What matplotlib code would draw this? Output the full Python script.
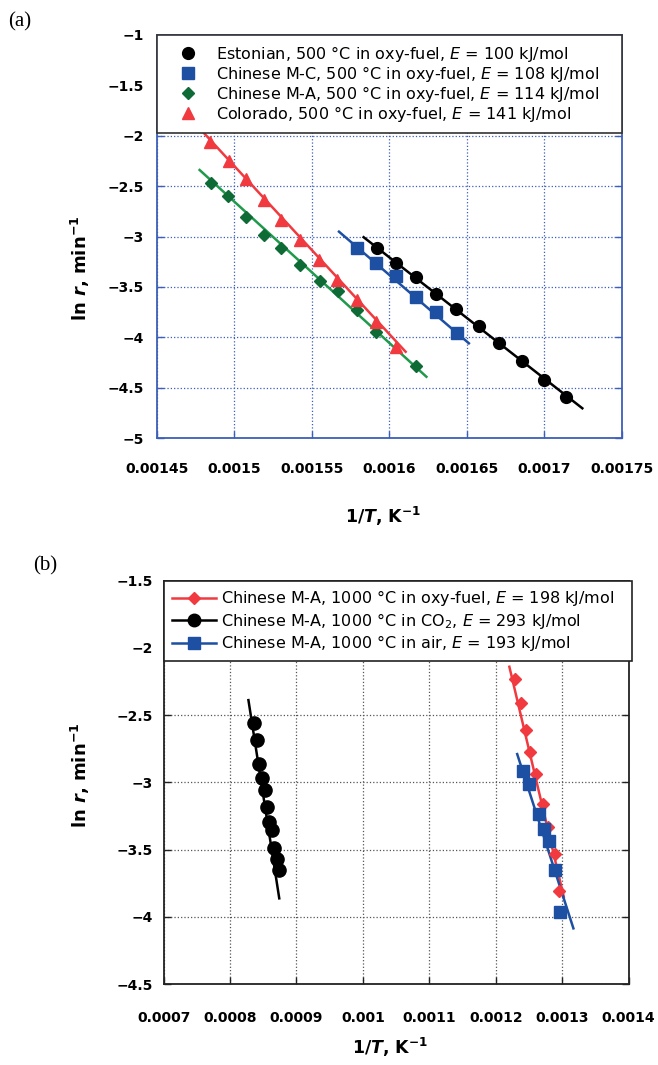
import matplotlib
matplotlib.use("Agg")
import matplotlib.pyplot as plt
from matplotlib.lines import Line2D
from matplotlib.ticker import FixedLocator, FixedFormatter

plt.rcParams['font.family'] = ['DejaVu Sans']
plt.rcParams['mathtext.fontset'] = 'custom'
plt.rcParams['mathtext.rm'] = 'DejaVu Sans'
plt.rcParams['mathtext.it'] = 'DejaVu Sans:italic'
plt.rcParams['mathtext.bf'] = 'DejaVu Sans:bold'
try:
    plt.rcParams['mathtext.bfit'] = 'DejaVu Sans:italic:bold'
    BFIT = True
except Exception:
    BFIT = False

# ---------------- Panel (a) data ----------------
est_x = [0.001592, 0.0016046, 0.0016175, 0.00163, 0.001643, 0.001658, 0.001671, 0.001686, 0.0017, 0.001714]
est_y = [-3.117, -3.260, -3.399, -3.571, -3.722, -3.888, -4.060, -4.233, -4.424, -4.590]
est_fit_x = [0.0015835, 0.0017246]
est_fit_y = [-3.007, -4.705]

mc_x = [0.001579, 0.0015917, 0.0016046, 0.0016175, 0.00163, 0.0016437]
mc_y = [-3.117, -3.260, -3.392, -3.598, -3.746, -3.955]
mc_fit_x = [0.0015676, 0.0016514]
mc_fit_y = [-2.952, -4.060]

ma_x = [0.0014848, 0.001496, 0.0015074, 0.001519, 0.0015304, 0.0015422, 0.0015551, 0.0015669, 0.0015792, 0.0015917, 0.0016175]
ma_y = [-2.472, -2.598, -2.810, -2.985, -3.117, -3.283, -3.442, -3.537, -3.730, -3.945, -4.285]
ma_fit_x = [0.0014777, 0.001624]
ma_fit_y = [-2.340, -4.392]

col_x = [0.0014846, 0.0014964, 0.0015079, 0.0015192, 0.0015304, 0.0015422, 0.0015547, 0.0015666, 0.0015792, 0.0015917, 0.0016046]
col_y = [-2.059, -2.248, -2.432, -2.638, -2.836, -3.033, -3.231, -3.430, -3.635, -3.851, -4.099]
col_fit_x = [0.0014777, 0.0016106]
col_fit_y = [-1.927, -4.144]

labels_a = [
    r'Estonian, 500 °C in oxy-fuel, $\mathit{E}$ = 100 kJ/mol',
    r'Chinese M-C, 500 °C in oxy-fuel, $\mathit{E}$ = 108 kJ/mol',
    r'Chinese M-A, 500 °C in oxy-fuel, $\mathit{E}$ = 114 kJ/mol',
    r'Colorado, 500 °C in oxy-fuel, $\mathit{E}$ = 141 kJ/mol',
]
xticks_a = [0.00145, 0.0015, 0.00155, 0.0016, 0.00165, 0.0017, 0.00175]
yticks_a = [-1, -1.5, -2, -2.5, -3, -3.5, -4, -4.5, -5]

# ---------------- Panel (b) data ----------------
oxy_x = [0.0012292, 0.0012374, 0.0012451, 0.0012523, 0.0012605, 0.0012708, 0.0012780, 0.0012886, 0.0012947]
oxy_y = [-2.235, -2.413, -2.611, -2.773, -2.938, -3.161, -3.330, -3.533, -3.805]
oxy_fit_x = [0.0012205, 0.0013024]
oxy_fit_y = [-2.141, -3.850]

co2_x = [0.000836, 0.0008404, 0.0008438, 0.0008479, 0.0008525, 0.0008564, 0.000859, 0.0008631, 0.0008665, 0.00087, 0.0008741]
co2_y = [-2.562, -2.686, -2.864, -2.970, -3.057, -3.181, -3.293, -3.354, -3.490, -3.572, -3.652]
co2_fit_x = [0.0008277, 0.0008741]
co2_fit_y = [-2.389, -3.862]

air_x = [0.0012409, 0.0012497, 0.0012651, 0.0012732, 0.0012809, 0.0012886, 0.0012974]
air_y = [-2.914, -3.013, -3.236, -3.349, -3.434, -3.652, -3.966]
air_fit_x = [0.0012323, 0.0013169]
air_fit_y = [-2.790, -4.085]

labels_b = [
    r'Chinese M-A, 1000 °C in oxy-fuel, $\mathit{E}$ = 198 kJ/mol',
    r'Chinese M-A, 1000 °C in CO$_2$, $\mathit{E}$ = 293 kJ/mol',
    r'Chinese M-A, 1000 °C in air, $\mathit{E}$ = 193 kJ/mol',
]
xticks_b = [0.0007, 0.0008, 0.0009, 0.001, 0.0011, 0.0012, 0.0013, 0.0014]
yticks_b = [-1.5, -2, -2.5, -3, -3.5, -4, -4.5]

# ---------------- colours ----------------
BLACK = '#000000'
BLUE = '#1d4fa3'
GREEN_M = '#0e6b35'
GREEN_L = '#1f9a4a'
RED = '#f03a3f'
FRAME_A = '#3d5fb8'

def fmt(v):
    return ('%g' % v).replace('-', '\u2212')

XLAB = r'1/$\mathbfit{T}$, K$^{\mathbf{-1}}$' if BFIT else r'1/$\mathit{T}$, K$^{-1}$'
YLAB = r'ln $\mathbfit{r}$, min$^{\mathbf{-1}}$' if BFIT else r'ln $\mathit{r}$, min$^{-1}$'

W, H = 658, 1065
fig = plt.figure(figsize=(W / 100, H / 100), dpi=100)

# ---------------- Panel (a) ----------------
axa = fig.add_axes([156.7 / W, 1 - 438 / H, 465 / W, 403 / H])
axa.set_xlim(0.00145, 0.00175)
axa.set_ylim(-5, -1)

axa.plot(est_fit_x, est_fit_y, color=BLACK, lw=1.8, zorder=3)
axa.plot(mc_fit_x, mc_fit_y, color=BLUE, lw=1.8, zorder=3)
axa.plot(ma_fit_x, ma_fit_y, color=GREEN_L, lw=1.8, zorder=3)
axa.plot(col_fit_x, col_fit_y, color=RED, lw=1.8, zorder=3)

h1, = axa.plot(est_x, est_y, 'o', color=BLACK, ms=8.5, mec=BLACK, zorder=4)
h2, = axa.plot(mc_x, mc_y, 's', color=BLUE, ms=8.5, mec=BLUE, zorder=4)
h3, = axa.plot(ma_x, ma_y, 'D', color=GREEN_M, ms=6.5, mec=GREEN_M, zorder=4)
h4, = axa.plot(col_x, col_y, '^', color=RED, ms=8.5, mec=RED, zorder=4)

axa.xaxis.set_major_locator(FixedLocator(xticks_a))
axa.xaxis.set_major_formatter(FixedFormatter([fmt(v) for v in xticks_a]))
axa.yaxis.set_major_locator(FixedLocator(yticks_a))
axa.yaxis.set_major_formatter(FixedFormatter([fmt(v) for v in yticks_a]))
axa.grid(True, color=FRAME_A, ls=':', lw=0.9)
for s in axa.spines.values():
    s.set_color(FRAME_A)
    s.set_linewidth(1.3)
axa.tick_params(axis='both', direction='in', length=5, width=1, color=FRAME_A,
                labelsize=10, right=True)
axa.tick_params(axis='x', pad=17)
axa.tick_params(axis='y', pad=9)
for t in axa.get_xticklabels() + axa.get_yticklabels():
    t.set_fontweight('bold')

leg_a = axa.legend([h1, h2, h3, h4], labels_a, loc='upper left',
                   bbox_to_anchor=(0, 0.996, 1, 0.004), mode='expand',
                   borderaxespad=0, fontsize=11.5, frameon=True, fancybox=False,
                   edgecolor='#333333', framealpha=1, numpoints=1,
                   handlelength=2.8, handletextpad=0.35, labelspacing=0.0,
                   borderpad=0.55)
leg_a.get_frame().set_linewidth(1.2)
leg_a.set_zorder(10)

fig.text(383 / W, 1 - 516 / H, XLAB, ha='center', va='center', fontsize=12.5, fontweight='bold')
fig.text(80 / W, 1 - 268 / H, YLAB, ha='center', va='center', rotation=90,
         fontsize=13, fontweight='bold')
fig.text(8 / W, 1 - 22 / H, '(a)', family='Liberation Serif', fontsize=15,
         ha='left', va='center')

# ---------------- Panel (b) ----------------
axb = fig.add_axes([163.6 / W, 1 - 984.2 / H, 465 / W, 403.7 / H])
axb.set_xlim(0.0007, 0.0014)
axb.set_ylim(-4.5, -1.5)

axb.plot(co2_fit_x, co2_fit_y, color=BLACK, lw=1.8, zorder=3)
axb.plot(oxy_fit_x, oxy_fit_y, color=RED, lw=1.8, zorder=3)
axb.plot(air_fit_x, air_fit_y, color=BLUE, lw=1.8, zorder=3)
axb.plot(co2_x, co2_y, 'o', color=BLACK, ms=9.5, zorder=4)
axb.plot(oxy_x, oxy_y, 'D', color=RED, ms=6.5, zorder=4)
axb.plot(air_x, air_y, 's', color=BLUE, ms=8.5, zorder=5)

axb.xaxis.set_major_locator(FixedLocator(xticks_b))
axb.xaxis.set_major_formatter(FixedFormatter([fmt(v) for v in xticks_b]))
axb.yaxis.set_major_locator(FixedLocator(yticks_b))
axb.yaxis.set_major_formatter(FixedFormatter([fmt(v) for v in yticks_b]))
axb.grid(True, color='#555555', ls=':', lw=0.9)
for s in axb.spines.values():
    s.set_color('#222222')
    s.set_linewidth(1.3)
axb.tick_params(axis='both', direction='in', length=5, width=1, color='#222222',
                labelsize=10, right=True)
axb.tick_params(axis='x', pad=19)
axb.tick_params(axis='y', pad=8)
for t in axb.get_xticklabels() + axb.get_yticklabels():
    t.set_fontweight('bold')

hb = [Line2D([], [], color=RED, lw=1.8, marker='D', ms=6.5),
      Line2D([], [], color=BLACK, lw=1.8, marker='o', ms=9),
      Line2D([], [], color=BLUE, lw=1.8, marker='s', ms=8)]
leg_b = axb.legend(hb, labels_b, loc='upper left',
                   bbox_to_anchor=(0, 0.996, 1.007, 0.004), mode='expand',
                   borderaxespad=0, fontsize=11.5, frameon=True, fancybox=False,
                   edgecolor='#222222', framealpha=1, numpoints=1,
                   handlelength=2.8, handletextpad=0.3, labelspacing=0.15,
                   borderpad=0.5)
leg_b.get_frame().set_linewidth(1.2)
leg_b.set_zorder(10)

fig.text(390 / W, 1 - 1047 / H, XLAB, ha='center', va='center', fontsize=12.5, fontweight='bold')
fig.text(80 / W, 1 - 775 / H, YLAB, ha='center', va='center', rotation=90,
         fontsize=13, fontweight='bold')
fig.text(33 / W, 1 - 566 / H, '(b)', family='Liberation Serif', fontsize=15,
         ha='left', va='center')

fig.savefig('out.png', dpi=100)
